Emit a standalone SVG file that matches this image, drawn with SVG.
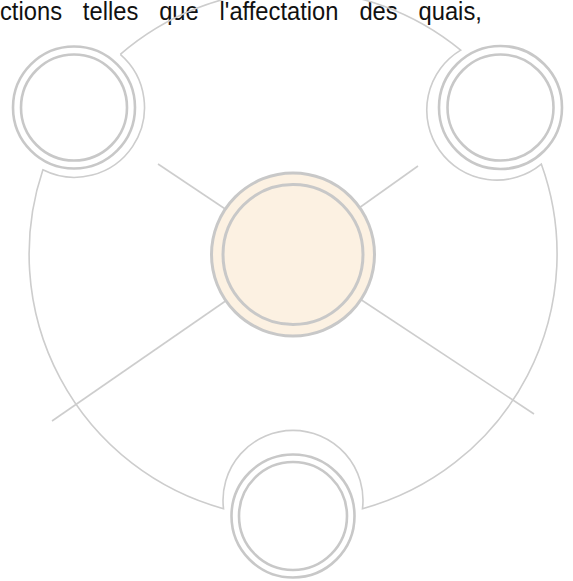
<svg xmlns="http://www.w3.org/2000/svg" width="573" height="581" viewBox="0 0 573 581">
<style>
.ring{fill:none;stroke:#c8c8c8;stroke-width:2.6}
.conn{fill:none;stroke:#cdcdcd;stroke-width:1.6}
.txt{font-family:"Liberation Sans",Arial,sans-serif;font-size:25px;fill:#111}
</style>
<rect width="573" height="581" fill="#ffffff"/>
<text class="txt" transform="scale(0.95,1)" x="0" y="20" word-spacing="15">ctions telles que l'affectation des quais,</text>
<g id="connectors">
<path class="conn" d="M 120.3 54.4 A 264 264 0 0 1 460.7 50.1 A 70 70 0 1 0 541.3 164.1 A 264 264 0 0 1 362.5 508.7 A 70 70 0 1 0 223.5 508.7 A 264 264 0 0 1 42.9 169.8 A 70 70 0 0 0 120.3 54.4"/>
<line class="conn" x1="226" y1="209.5" x2="158" y2="164"/>
<line class="conn" x1="359" y1="208" x2="418" y2="166"/>
<line class="conn" x1="227" y1="300" x2="52" y2="421"/>
<line class="conn" x1="360" y1="299" x2="534" y2="414"/>
</g>
<g id="node-center">
<circle cx="293" cy="254.5" r="81.5" fill="#fcf1e2" stroke="#c8c8c8" stroke-width="3"/>
<circle cx="293" cy="254.5" r="70" fill="none" stroke="#c8c8c8" stroke-width="3"/>
</g>
<g id="node-top-left">
<circle class="ring" cx="74" cy="107.5" r="61"/>
<circle class="ring" cx="74" cy="107.5" r="53"/>
</g>
<g id="node-top-right">
<circle class="ring" cx="500.5" cy="107.5" r="61.5"/>
<circle class="ring" cx="500.5" cy="107.5" r="53"/>
</g>
<g id="node-bottom">
<circle class="ring" cx="293" cy="516" r="61.5"/>
<circle class="ring" cx="293" cy="516" r="54"/>
</g>
</svg>
